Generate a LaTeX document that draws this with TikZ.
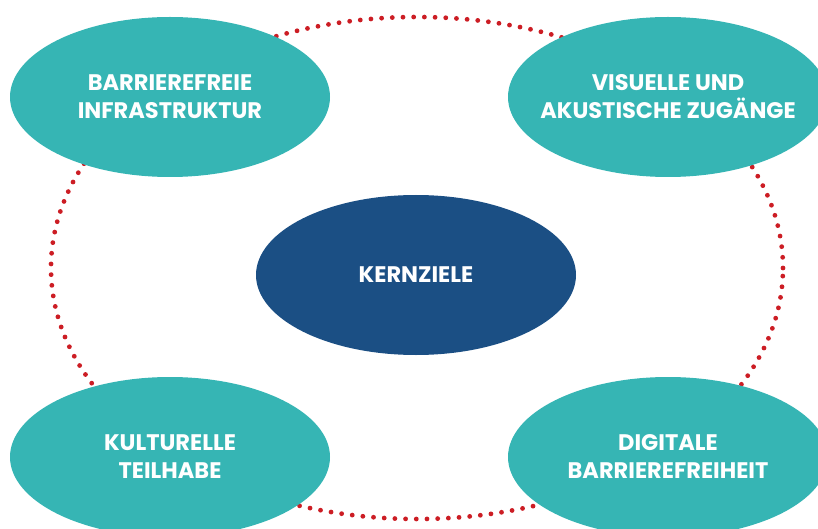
\documentclass[tikz,border=0pt]{standalone}
\usepackage{fontspec}
\setmainfont{Poppins}[BoldFont={Poppins Bold}]
\usepackage{tikz}
\usetikzlibrary{shapes.geometric}
\definecolor{tealziel}{HTML}{36B5B4}
\definecolor{blauziel}{HTML}{1B4F84}
\definecolor{rotpunkt}{HTML}{CC1D24}
\tikzset{
    ziel/.style={ellipse, fill=tealziel, minimum width=320pt, minimum height=160pt, inner ysep=0pt, inner xsep=-30pt,
        text=white, align=center, font=\bfseries\fontsize{22.5}{28}\selectfont},
    kernziel/.style={ziel, fill=blauziel},
    punktring/.style={rotpunkt, line width=4.8pt, line cap=round, dash pattern=on 0pt off 10.7pt}
}

\begin{document}
\begin{tikzpicture}[x=1pt, y=-1pt]
\useasboundingbox (0,0) rectangle (818,529);
\coordinate (mitte) at (417,268);
\draw[punktring] (mitte) ellipse [x radius=366pt, y radius=251pt];
\foreach \x/\y/\p/\labeltext in {170/97/infra/{BARRIEREFREIE\\INFRASTRUKTUR}, 668/97/visuell/{VISUELLE UND\\AKUSTISCHE ZUGÄNGE}, 170/457/kultur/{KULTURELLE\\TEILHABE}, 668/457/digital/{DIGITALE\\BARRIEREFREIHEIT}}{
    \node[ziel] (\p) at (\x,\y) {\labeltext};
}
\node[kernziel] (kern) at (416,275) {KERNZIELE};
\end{tikzpicture}
\end{document}
